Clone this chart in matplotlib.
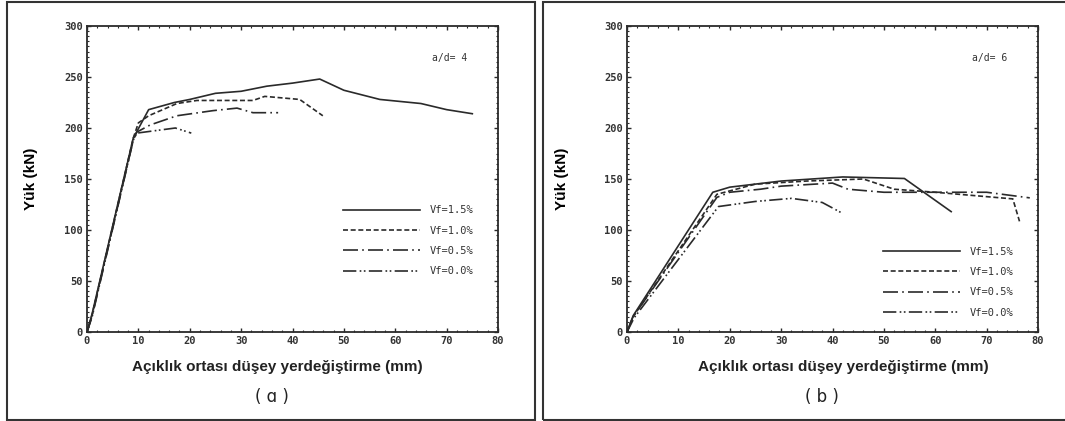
import numpy as np
import matplotlib.pyplot as plt
from matplotlib.patches import Rectangle
from matplotlib.ticker import MultipleLocator

# a/d = 4 (panel a)
a_x15 = [0, 1, 9, 12, 17, 20, 25, 30, 35, 40, 45.3, 50, 57, 65, 70, 75]
a_y15 = [0, 18, 190, 218, 225, 228, 234, 236, 241, 244, 248, 237, 228, 224, 218, 214]
a_x10 = [0, 1, 9, 10, 12, 17.5, 21.4, 32.3, 34.6, 41.4, 45.9]
a_y10 = [0, 17, 190, 205, 212, 224, 227, 227, 231, 228, 212]
a_x05 = [0, 1, 9, 9.7, 12.3, 17.5, 24.5, 29.2, 32.3, 37.2]
a_y05 = [0, 16, 188, 196, 203, 212, 217, 219.5, 215, 215]
a_x00 = [0, 1, 9, 9.7, 17.2, 20.3]
a_y00 = [0, 15, 188, 195, 200, 195]

# a/d = 6 (panel b)
b_x15 = [0, 1.2, 16.7, 20, 30, 42, 54, 63.1]
b_y15 = [0, 16, 137, 142, 148, 152, 150.5, 118]
b_x10 = [0, 1.2, 17.5, 25, 35, 46, 52, 60, 75.1, 76.4]
b_y10 = [0, 15, 135, 145, 148, 150, 140, 137, 130.5, 108.5]
b_x05 = [0, 1.2, 17.5, 20, 26, 30, 40, 43, 50, 70, 78.4]
b_y05 = [0, 15, 132, 137, 140, 143, 146, 140, 137, 137, 131.5]
b_x00 = [0, 1.4, 17.8, 25, 32, 38, 41.7]
b_y00 = [0, 14, 123, 128, 131, 127, 117]

labels = ['Vf=1.5%', 'Vf=1.0%', 'Vf=0.5%', 'Vf=0.0%']
styles = ['-', (0, (3, 1.6)), (0, (9, 2.5, 1, 2.5)), (0, (8, 2, 1, 1.5, 1, 2))]

W, H = 1065, 421
fig = plt.figure(figsize=(W / 100, H / 100), dpi=100)
fig.patch.set_facecolor('white')

# panel frames
fig.patches.append(Rectangle((7 / W, 1 / H), 528 / W, 418 / H, transform=fig.transFigure,
                             fill=False, edgecolor='#333333', linewidth=1.5))
fig.patches.append(Rectangle((543 / W, 1 / H), 530 / W, 418 / H, transform=fig.transFigure,
                             fill=False, edgecolor='#333333', linewidth=1.5))

mono = 'DejaVu Sans Mono'
sans = 'Liberation Sans'
col = '#2a2a2a'


def setup(ax, xmax):
    ax.set_xlim(0, xmax)
    ax.set_ylim(0, 300)
    ax.xaxis.set_major_locator(MultipleLocator(10))
    ax.yaxis.set_major_locator(MultipleLocator(50))
    ax.xaxis.set_minor_locator(MultipleLocator(2))
    ax.yaxis.set_minor_locator(MultipleLocator(5))
    ax.tick_params(which='both', direction='in', top=True, right=True, colors=col)
    ax.tick_params(which='major', length=3, width=1, pad=3, labelsize=7.5)
    ax.tick_params(which='minor', length=1.5, width=0.8)
    for lab in ax.get_xticklabels() + ax.get_yticklabels():
        lab.set_fontfamily(mono)
        lab.set_fontweight('bold')
        lab.set_color('#333333')
    for s in ax.spines.values():
        s.set_linewidth(1.3)
        s.set_color(col)


axes = []
for left in (87, 627):
    ax = fig.add_axes([left / W, (H - 332) / H, 411 / W, 306 / H])
    axes.append(ax)

data = [
    [(a_x15, a_y15), (a_x10, a_y10), (a_x05, a_y05), (a_x00, a_y00)],
    [(b_x15, b_y15), (b_x10, b_y10), (b_x05, b_y05), (b_x00, b_y00)],
]
ratios = ['a/d= 4', 'a/d= 6']
legend_y = [0.445, 0.31]
ypads = [19, 25]

for ax, series, ratio, ly, yp in zip(axes, data, ratios, legend_y, ypads):
    for (x, y), ls, lab in zip(series, styles, labels):
        ax.plot(x, y, linestyle=ls, color=col, linewidth=1.2, label=lab)
    setup(ax, 80)
    ax.text(0.925, 0.895, ratio, transform=ax.transAxes, ha='right', va='center',
            fontsize=7, family=mono, color='#333333')
    leg = ax.legend(loc='upper left', bbox_to_anchor=(0.6, ly), frameon=False,
                    handlelength=7.4, handletextpad=0.9, labelspacing=1.0,
                    prop={'family': mono, 'size': 7.5})
    for t in leg.get_texts():
        t.set_color('#333333')
    ax.set_ylabel('Yük (kN)', fontsize=11, fontweight='bold', family=sans, labelpad=yp)

fig.text(277 / W, 1 - 367 / H, 'Açıklık ortası düşey yerdeğiştirme (mm)', ha='center', va='center',
         fontsize=11, fontweight='bold', family=sans, color='#222222')
fig.text(843 / W, 1 - 367 / H, 'Açıklık ortası düşey yerdeğiştirme (mm)', ha='center', va='center',
         fontsize=11, fontweight='bold', family=sans, color='#222222')
fig.text(272 / W, 1 - 397 / H, '( ɑ )', ha='center', va='center', fontsize=12, family='DejaVu Sans',
         color='#222222')
fig.text(822 / W, 1 - 397 / H, '( b )', ha='center', va='center', fontsize=12, family='DejaVu Sans',
         color='#222222')

fig.savefig('out.png', dpi=100)
